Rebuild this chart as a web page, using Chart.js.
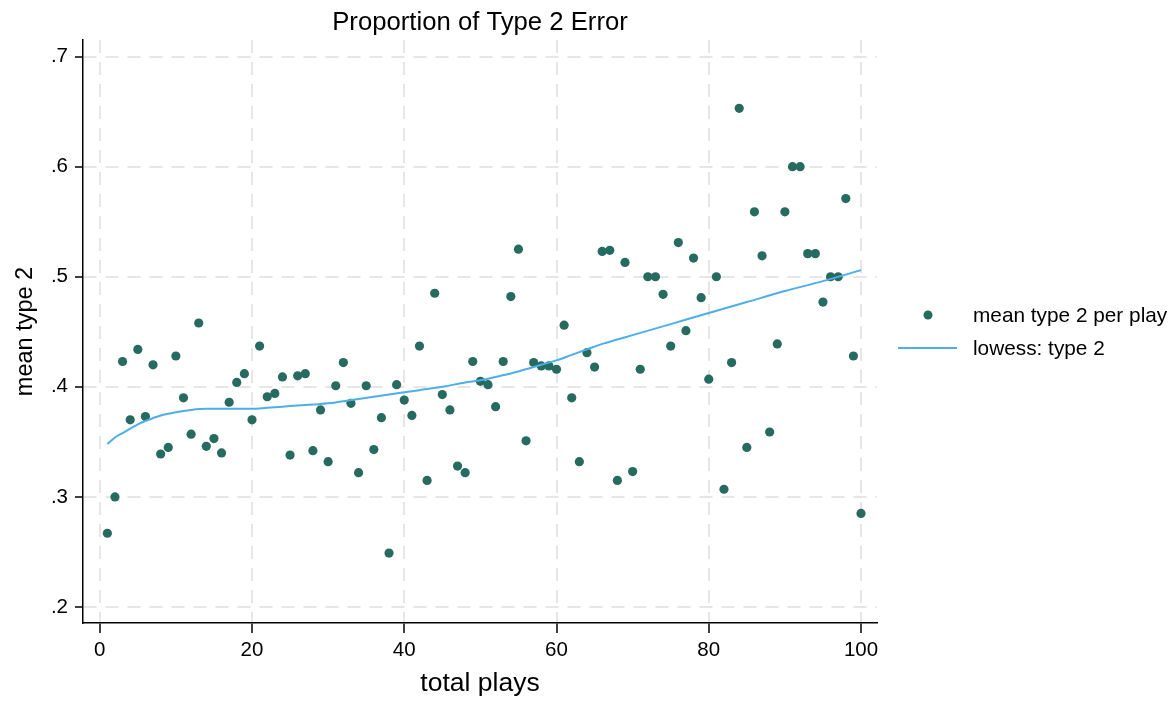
<!DOCTYPE html>
<html>
<head>
<meta charset="utf-8">
<title>Proportion of Type 2 Error</title>
<script src="https://cdn.jsdelivr.net/npm/chart.js@4.4.1/dist/chart.umd.min.js"></script>
<style>
  html, body { margin: 0; padding: 0; background: #fff; }
  #wrap { width: 1175px; height: 702px; position: relative; }
</style>
</head>
<body>
<div id="wrap"><canvas id="errChart"></canvas></div>
<script>
// valeurs
const totalPlays = [
  1, 2, 3, 4, 5, 6, 7, 8, 9, 10,
  11, 12, 13, 14, 15, 16, 17, 18, 19, 20,
  21, 22, 23, 24, 25, 26, 27, 28, 29, 30,
  31, 32, 33, 34, 35, 36, 37, 38, 39, 40,
  41, 42, 43, 44, 45, 46, 47, 48, 49, 50,
  51, 52, 53, 54, 55, 56, 57, 58, 59, 60,
  61, 62, 63, 64, 65, 66, 67, 68, 69, 70,
  71, 72, 73, 74, 75, 76, 77, 78, 79, 80,
  81, 82, 83, 84, 85, 86, 87, 88, 89, 90,
  91, 92, 93, 94, 95, 96, 97, 98, 99, 100
];
const meanType2 = [
  .267, .300, .423, .370, .434, .373, .420, .339, .345, .428,
  .390, .357, .458, .346, .353, .340, .386, .404, .412, .370,
  .437, .391, .394, .409, .338, .410, .412, .342, .379, .332,
  .401, .422, .385, .322, .401, .343, .372, .249, .402, .388,
  .374, .437, .315, .485, .393, .379, .328, .322, .423, .405,
  .402, .382, .423, .482, .525, .351, .422, .419, .419, .416,
  .456, .390, .332, .431, .418, .523, .524, .315, .513, .323,
  .416, .500, .500, .484, .437, .531, .451, .517, .481, .407,
  .500, .307, .422, .653, .345, .559, .519, .359, .439, .559,
  .600, .600, .521, .521, .477, .500, .500, .571, .428, .285
];
// courbe lowess
const lowessX = [1, 2, 3, 4, 5, 6, 8, 10, 12, 14, 16, 18, 20, 22, 24, 26, 28, 30, 32, 34,
  36, 38, 40, 42, 45, 48, 50, 52, 55, 58, 60, 62, 64, 66, 68, 70, 75, 80, 85, 90, 95, 100];
const lowessY = [.348, .354, .358, .362, .366, .369, .374, .377, .379, .380, .380, .380, .380, .381, .382, .383, .384, .385, .387, .389,
  .391, .393, .395, .397, .400, .404, .406, .409, .414, .420, .424, .429, .434, .439, .443, .447, .457, .467, .477, .487, .496, .506];

const xTicks = [0, 20, 40, 60, 80, 100];
const yTicks = [.2, .3, .4, .5, .6, .7];
const seriesNames = ['mean type 2 per play', 'lowess: type 2'];

const dotColor = '#266a60';
const lineColor = '#4eaeea';
const fontFam = '"Liberation Sans", Arial, Helvetica, sans-serif';

// légende dessinée à droite, comme dans Stata
const sideLegend = {
    id: 'sideLegend',
    afterDraw(chart){
        const ctx = chart.ctx;
        const r = chart.chartArea.right;
        ctx.save();
        ctx.fillStyle = dotColor;
        ctx.beginPath();
        ctx.arc(r + 51, 315, 4.5, 0, Math.PI * 2);
        ctx.fill();
        ctx.strokeStyle = lineColor;
        ctx.lineWidth = 2;
        ctx.beginPath();
        ctx.moveTo(r + 21, 348);
        ctx.lineTo(r + 80, 348);
        ctx.stroke();
        ctx.fillStyle = '#000';
        ctx.font = '20.8px ' + fontFam;
        ctx.textBaseline = 'middle';
        ctx.textAlign = 'left';
        ctx.fillText(seriesNames[0], r + 96, 316);
        ctx.fillText(seriesNames[1], r + 96, 349);
        ctx.restore();
    }
};

const ctx = document.getElementById('errChart').getContext('2d');
new Chart(ctx, {
    type: 'scatter',
    data: {
        datasets: [{
            label: seriesNames[1],
            type: 'line',
            data: lowessX.map((x, i) => ({x: x, y: lowessY[i]})),
            borderColor: lineColor,
            borderWidth: 2,
            pointRadius: 0,
            fill: false,
            cubicInterpolationMode: 'monotone',
            order: 0
        }, {
            label: seriesNames[0],
            data: totalPlays.map((x, i) => ({x: x, y: meanType2[i]})),
            backgroundColor: dotColor,
            borderColor: dotColor,
            borderWidth: 0,
            pointRadius: 4.6,
            order: 1
        }]
    },
    options: {
        responsive: true,
        maintainAspectRatio: false,
        animation: false,
        layout: { padding: { left: 0, right: 298, top: 0, bottom: 0 } },
        plugins: {
            legend: { display: false },
            tooltip: { enabled: false },
            title: {
                display: true,
                text: 'Proportion of Type 2 Error',
                fullSize: false,
                color: '#000',
                font: { family: fontFam, size: 25.7, weight: 'normal' },
                padding: { top: 7, bottom: 2.2 }
            }
        },
        scales: {
            x: {
                type: 'linear',
                min: -2.2,
                max: 102.1,
                afterBuildTicks: s => { s.ticks = xTicks.map(v => ({value: v})); },
                afterFit: s => { s.height = 79; },
                ticks: {
                    color: '#000',
                    padding: 5,
                    font: { family: fontFam, size: 20.5 }
                },
                grid: {
                    color: '#e6e6e6',
                    lineWidth: 2,
                    tickColor: '#000',
                    tickWidth: 1.5,
                    tickLength: 10
                },
                border: { display: true, color: '#000', width: 1.5, dash: [13, 9] },
                title: {
                    display: true,
                    text: 'total plays',
                    color: '#000',
                    font: { family: fontFam, size: 26.5 },
                    padding: { top: 2, bottom: 2.2 }
                }
            },
            y: {
                type: 'linear',
                min: 0.1855,
                max: 0.715,
                afterBuildTicks: s => { s.ticks = yTicks.map(v => ({value: v})); },
                afterFit: s => { s.width = 83; },
                ticks: {
                    color: '#000',
                    padding: 7,
                    font: { family: fontFam, size: 20.5 },
                    callback: v => v.toFixed(1).replace(/^0/, '')
                },
                grid: {
                    color: '#e6e6e6',
                    lineWidth: 2,
                    tickColor: '#000',
                    tickWidth: 1.5,
                    tickLength: 8
                },
                border: { display: true, color: '#000', width: 1.5, dash: [13, 9] },
                title: {
                    display: true,
                    text: 'mean type 2',
                    color: '#000',
                    font: { family: fontFam, size: 23.5 },
                    padding: { top: 11, bottom: 11 }
                }
            }
        }
    },
    plugins: [sideLegend]
});
</script>
</body>
</html>
